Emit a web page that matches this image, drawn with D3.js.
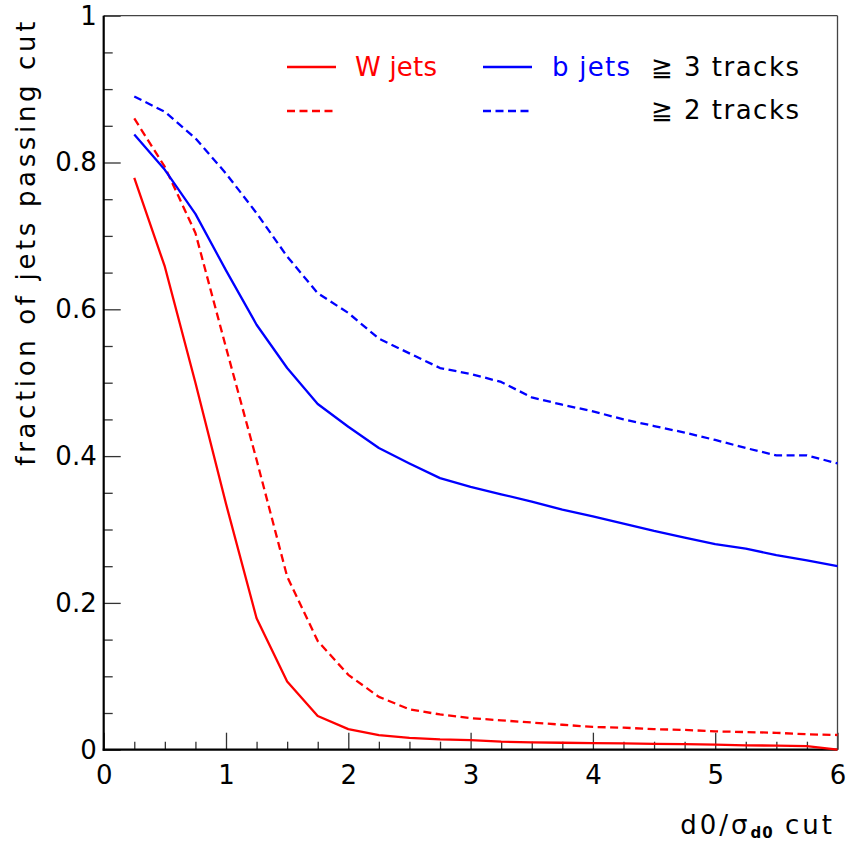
<!DOCTYPE html>
<html>
<head>
<meta charset="utf-8">
<script src="https://cdn.jsdelivr.net/npm/d3@7"></script>
<style>
  html, body { margin: 0; padding: 0; background: #fff; }
  svg { display: block; }
  text { font-family: "DejaVu Sans", sans-serif; }
</style>
</head>
<body>
<div id="chart"></div>
<script>
// ---- data ----
const cutValues = [0.25,0.5,0.75,1.0,1.25,1.5,1.75,2.0,2.25,2.5,2.75,3.0,3.25,3.5,3.75,4.0,4.25,4.5,4.75,5.0,5.25,5.5,5.75,6.0];
const wJets3 = [0.779,0.658,0.500,0.335,0.179,0.093,0.046,0.028,0.020,0.016,0.014,0.013,0.011,0.010,0.0095,0.009,0.0085,0.008,0.0075,0.007,0.006,0.0055,0.005,0.0];
const wJets2 = [0.860,0.794,0.704,0.548,0.395,0.236,0.148,0.102,0.072,0.055,0.048,0.043,0.040,0.037,0.034,0.031,0.030,0.028,0.027,0.025,0.024,0.023,0.021,0.020];
const bJets3 = [0.838,0.790,0.730,0.653,0.579,0.520,0.471,0.440,0.411,0.390,0.370,0.358,0.348,0.338,0.327,0.318,0.308,0.298,0.289,0.280,0.274,0.265,0.258,0.250];
const bJets2 = [0.890,0.869,0.833,0.785,0.731,0.672,0.622,0.595,0.560,0.540,0.520,0.512,0.501,0.480,0.470,0.461,0.450,0.441,0.432,0.422,0.411,0.401,0.401,0.390];
const xTickLabels = [0,1,2,3,4,5,6];
const yTickLabels = [0,0.2,0.4,0.6,0.8,1];
const legendEntries = ["W jets", "b jets"];
const trackLabels = ["≧ 3 tracks", "≧ 2 tracks"];
const xTitle = "d0/σ";
const xTitleSub = "d0";
const xTitleTail = " cut";
const yTitle = "fraction of jets passing cut";

// ---- layout ----
const W = 847, H = 846;
const L = 103.7, R = 837.5, T = 15.7, B = 749.7;
const RED = "#ff0000", BLUE = "#0000ff";
const FS = 26;

const svg = d3.select("#chart").append("svg").attr("width", W).attr("height", H);

// stretch a text's letter spacing so that it spans a target width
function fitWidth(sel, target) {
  const node = sel.node();
  const len = node.getComputedTextLength();
  const n = node.textContent.length;
  if (n > 1) sel.attr("letter-spacing", (target - len) / (n - 1));
}

const x = d3.scaleLinear().domain([0, 6]).range([L, R]);
const y = d3.scaleLinear().domain([0, 1]).range([B, T]);

// minor ticks
const xMinor = d3.range(0, 6.0001, 0.25).filter(v => Math.abs(v - Math.round(v)) > 1e-6);
const yMinor = d3.range(0, 1.0001, 0.05).filter(v => Math.abs(v*5 - Math.round(v*5)) > 1e-6);

const fmtY = d => (d === 0 || d === 1) ? String(d) : d.toFixed(1);

// X axis major
const gx = svg.append("g").attr("transform", `translate(0,${B})`)
  .call(d3.axisBottom(x).tickValues(xTickLabels).tickSize(-17).tickPadding(10).tickFormat(d3.format("d")));
gx.select(".domain").remove();
gx.selectAll(".tick line").attr("stroke", "#333").attr("stroke-width", 1.3);
gx.selectAll(".tick text").attr("font-size", FS).attr("fill", "#000").attr("font-family", "DejaVu Sans").attr("dy", "0.95em");

// X axis minor
const gxm = svg.append("g").attr("transform", `translate(0,${B})`)
  .call(d3.axisBottom(x).tickValues(xMinor).tickSize(-8).tickFormat(""));
gxm.select(".domain").remove();
gxm.selectAll(".tick line").attr("stroke", "#333").attr("stroke-width", 1.3);

// Y axis major
const gy = svg.append("g").attr("transform", `translate(${L},0)`)
  .call(d3.axisLeft(y).tickValues(yTickLabels).tickSize(-17).tickPadding(7).tickFormat(fmtY));
gy.select(".domain").remove();
gy.selectAll(".tick line").attr("stroke", "#333").attr("stroke-width", 1.3);
gy.selectAll(".tick text").attr("font-size", FS).attr("fill", "#000").attr("font-family", "DejaVu Sans");

// Y axis minor
const gym = svg.append("g").attr("transform", `translate(${L},0)`)
  .call(d3.axisLeft(y).tickValues(yMinor).tickSize(-9).tickFormat(""));
gym.select(".domain").remove();
gym.selectAll(".tick line").attr("stroke", "#333").attr("stroke-width", 1.3);

// frame
svg.append("line").attr("x1", L).attr("x2", R).attr("y1", T).attr("y2", T).attr("stroke", "#444").attr("stroke-width", 1.3);
svg.append("line").attr("x1", R).attr("x2", R).attr("y1", T).attr("y2", B).attr("stroke", "#444").attr("stroke-width", 1.3);
svg.append("line").attr("x1", L).attr("x2", L).attr("y1", T).attr("y2", B + 1).attr("stroke", "#000").attr("stroke-width", 2.2);
svg.append("line").attr("x1", L - 1).attr("x2", R).attr("y1", B).attr("y2", B).attr("stroke", "#000").attr("stroke-width", 2.2);

// curves
const line = d3.line().x(d => x(d[0])).y(d => y(d[1]));
const DASH = "8,4.5";
const series = [
  { vals: wJets3, color: RED, dash: null },
  { vals: wJets2, color: RED, dash: DASH },
  { vals: bJets3, color: BLUE, dash: null },
  { vals: bJets2, color: BLUE, dash: DASH }
];
series.forEach(s => {
  svg.append("path")
    .datum(cutValues.map((c, i) => [c, s.vals[i]]))
    .attr("d", line)
    .attr("fill", "none")
    .attr("stroke", s.color)
    .attr("stroke-width", 2.3)
    .attr("stroke-linejoin", "round")
    .attr("stroke-dasharray", s.dash);
});

// legend
const legY = [67, 111];
const legCols = [{ x1: 287, x2: 336, tx: 355, tw: 82, color: RED, label: legendEntries[0] },
                 { x1: 483, x2: 532, tx: 552, tw: 78, color: BLUE, label: legendEntries[1] }];
legCols.forEach(c => {
  svg.append("line").attr("x1", c.x1).attr("x2", c.x2).attr("y1", legY[0]).attr("y2", legY[0])
    .attr("stroke", c.color).attr("stroke-width", 2.3);
  svg.append("line").attr("x1", c.x1).attr("x2", c.x2).attr("y1", legY[1]).attr("y2", legY[1])
    .attr("stroke", c.color).attr("stroke-width", 2.3).attr("stroke-dasharray", DASH);
  const t = svg.append("text").attr("x", c.tx).attr("y", 76).attr("font-size", FS).attr("fill", c.color).text(c.label);
  fitWidth(t, c.tw);
});
trackLabels.forEach((lbl, i) => {
  const t = svg.append("text").attr("x", 651).attr("y", [76, 119][i]).attr("font-size", FS).attr("fill", "#000").text(lbl);
  fitWidth(t, 148);
});

// x title
const xt = svg.append("text").attr("x", 835).attr("y", 834).attr("text-anchor", "end").attr("font-size", FS).attr("fill", "#000").attr("letter-spacing", 3);
xt.append("tspan").text(xTitle);
xt.append("tspan").attr("font-size", 15).attr("font-weight", "bold").attr("dy", 4).attr("letter-spacing", 1).text(xTitleSub);
xt.append("tspan").attr("dy", -4).text(xTitleTail);

// y title
const yt = svg.append("text")
  .attr("transform", `translate(35,18) rotate(-90)`)
  .attr("text-anchor", "end")
  .attr("font-size", FS)
  .attr("fill", "#000")
  .text(yTitle);
fitWidth(yt, 444);
</script>
</body>
</html>
